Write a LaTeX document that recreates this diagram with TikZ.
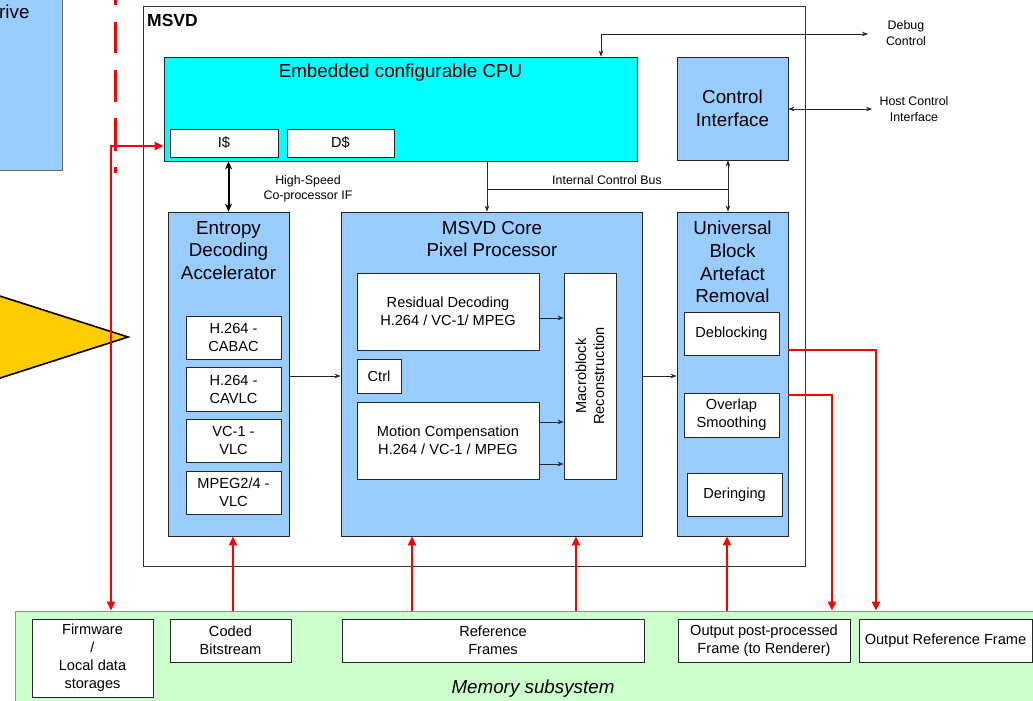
\documentclass[tikz,border=0pt]{standalone}
\usepackage{fontspec}
\setmainfont{Liberation Sans}
\usetikzlibrary{arrows.meta,calc}
\definecolor{lblue}{HTML}{99CCFF}
\definecolor{cpucyan}{HTML}{00FFFF}
\definecolor{memgreen}{HTML}{CCFFCC}
\definecolor{tri}{HTML}{FFCC00}
\definecolor{rline}{HTML}{FF0000}
\begin{document}
\begin{tikzpicture}[x=1pt,y=-1pt,
  bx/.style={draw=black!85, line width=0.8pt, inner sep=0pt, align=center},
  wbox/.style={bx, fill=white, font=\fontsize{14.6}{18}\selectfont},
  bbox/.style={bx, fill=lblue},
  ttl/.style={font=\fontsize{18.8}{22.7}\selectfont, align=center, inner sep=0pt},
  sml/.style={font=\fontsize{12.4}{15.5}\selectfont, align=center, inner sep=0pt},
  ar/.style={line width=0.7pt, draw=black!85, >={Stealth[length=6pt,width=4.5pt]}},
  rar/.style={draw=rline, line width=2.4pt, >={Triangle[length=9pt,width=8pt]}},
  thickar/.style={line width=2pt, >={Stealth[length=8pt,width=7pt]}},
  dashseg/.style={draw=rline, line width=2.8pt}
]
\useasboundingbox (0,0) rectangle (1033,701);
\clip (0,0) rectangle (1033,701);

% left partial box and triangle
\node[bbox, draw=black!60, minimum width=80, minimum height=190] (drivebox) at (22.5,75.5) {};
\node[ttl, anchor=west] (drivetxt) at (-1,12) {rive};
\fill[tri, draw=black, line width=1.6pt] (-20,289.7) -- (128,337) -- (-20,384.5) -- cycle;

% red dash-dot line
\foreach \a/\b in {-5/5, 22/53, 70/102, 118/151, 167/173}
  \draw[dashseg] (115.7,\a) -- (115.7,\b);

% MSVD outer
\node[bx, draw=black!80, minimum width=662, minimum height=560] (msvd) at (474,286) {};
\node[anchor=west, inner sep=0pt, font=\fontsize{17.5}{20}\selectfont\bfseries] (msvdl) at (147,20) {MSVD};

% CPU
\node[bx, fill=cpucyan, minimum width=473, minimum height=104] (cpu) at (400.5,109) {};
\node[ttl] (cput) at (400.5,73) {Embedded configurable CPU};
\node[wbox, minimum width=108, minimum height=28] (is) at (224,143) {I\$};
\node[wbox, minimum width=107, minimum height=28] (ds) at (340.5,143) {D\$};

% Control interface
\node[bbox, minimum width=111, minimum height=103] (ci) at (732.5,108.5) {};
\node[ttl] (cit) at (732.5,108.5) {Control\\Interface};

% Entropy
\node[bbox, minimum width=121, minimum height=324] (ent) at (228.5,374) {};
\node[ttl] (entt) at (228.5,250.5) {Entropy\\Decoding\\Accelerator};
\node[wbox, minimum width=95, minimum height=43] (cabac) at (233.5,337.5) {H.264 -\\CABAC};
\node[wbox, minimum width=95, minimum height=44] (cavlc) at (233.5,389) {H.264 -\\CAVLC};
\node[wbox, minimum width=95, minimum height=43] (vc1) at (233.5,440.5) {VC-1 -\\VLC};
\node[wbox, minimum width=95, minimum height=43] (mpeg) at (233.5,492.5) {MPEG2/4 -\\VLC};

% Core
\node[bbox, minimum width=301, minimum height=324] (core) at (491.5,374) {};
\node[ttl] (coret) at (492,239) {MSVD Core\\Pixel Processor};
\node[wbox, minimum width=182, minimum height=77] (res) at (448,311.5) {Residual Decoding\\H.264 / VC-1/ MPEG};
\node[wbox, minimum width=44, minimum height=34] (ctrl) at (379,376) {Ctrl};
\node[wbox, minimum width=182, minimum height=77] (mc) at (448,440.5) {Motion Compensation\\H.264 / VC-1 / MPEG};
\node[wbox, minimum width=52, minimum height=206] (mb) at (590,376) {};
\node[rotate=90, font=\fontsize{14.6}{18}\selectfont, align=center, inner sep=0pt] (mbt) at (590,376) {Macroblock\\Reconstruction};

% UBAR
\node[bbox, minimum width=111, minimum height=324] (ubar) at (732.5,374) {};
\node[ttl] (ubart) at (732.5,262) {Universal\\Block\\Artefact\\Removal};
\node[wbox, minimum width=95, minimum height=43] (deb) at (731.5,333.5) {Deblocking};
\node[wbox, minimum width=95, minimum height=44] (ovl) at (731.5,415) {Overlap\\Smoothing};
\node[wbox, minimum width=95, minimum height=43] (der) at (734.5,494.5) {Deringing};

% Memory
\node[bx, draw=black!45, fill=memgreen, minimum width=1030, minimum height=110] (mem) at (530,666) {};
\node[ttl, font=\fontsize{18.8}{22.7}\selectfont\itshape] (meml) at (533,689) {Memory subsystem};
\node[wbox, minimum width=121, minimum height=78] (fw) at (92.5,658) {Firmware\\/\\Local data\\storages};
\node[wbox, minimum width=121, minimum height=43] (cb) at (230.5,640.5) {Coded\\Bitstream};
\node[wbox, minimum width=302, minimum height=43] (rf) at (493,640.5) {Reference\\Frames};
\node[wbox, minimum width=172, minimum height=43] (opp) at (764,640.5) {Output post-processed\\Frame (to Renderer)};
\node[wbox, minimum width=173, minimum height=43] (orf) at (945.5,640.5) {Output Reference Frame};

% labels
\node[sml] (dbgl) at (906,33) {Debug\\Control};
\node[sml] (hostl) at (914,109) {Host Control\\Interface};
\node[sml] (hsl) at (308,189) {High-Speed\\Co-processor IF};
\node[sml] (icbl) at (607,180) {Internal Control Bus};

% black connectors
\coordinate (dbgc) at (601,34);
\coordinate (dbg) at (868,34);
\draw[ar,<->] (dbgc |- cpu.north) -- (dbgc) -- (dbg);
\coordinate (host) at (872,109);
\draw[ar,<->] (ci.east |- host) -- (host);
\draw[thickar,<->] (ent.north |- cpu.south) -- (ent.north);
\coordinate (busL) at (487,189);
\coordinate (busR) at (728,189);
\draw[ar,->] (cpu.south -| busL) -- (core.north -| busL);
\draw[ar] (busL) -- (busR);
\draw[ar,<->] (ci.south -| busR) -- (ubar.north -| busR);
\draw[ar,->] (ent.east |- ctrl) -- (core.west |- ctrl);
\draw[ar,->] (core.east |- ctrl) -- (ubar.west |- ctrl);
\draw[ar,->] ($(res.east)+(0,6.5)$) -- ($(mb.west |- res.east)+(0,6.5)$);
\draw[ar,->] ($(mc.east)+(0,-18.5)$) -- ($(mb.west |- mc.east)+(0,-18.5)$);
\draw[ar,->] ($(mc.east)+(0,23.5)$) -- ($(mb.west |- mc.east)+(0,23.5)$);

% red connectors
\coordinate (fwx) at (111,146);
\draw[rar,<->] (mem.north -| fwx) -- (fwx) -- (cpu.west |- fwx);
\coordinate (r1) at (233,600);
\coordinate (r2) at (412,600);
\coordinate (r3) at (576,600);
\coordinate (r4) at (727,600);
\draw[rar,->] (mem.north -| r1) -- (ent.south -| r1);
\draw[rar,->] (mem.north -| r2) -- (core.south -| r2);
\draw[rar,->] (mem.north -| r3) -- (core.south -| r3);
\draw[rar,->] (mem.north -| r4) -- (ubar.south -| r4);
\coordinate (dbk) at (876,350);
\coordinate (ovk) at (832,395);
\draw[rar,->] (ubar.east |- dbk) -- (dbk) -- (mem.north -| dbk);
\draw[rar,->] (ubar.east |- ovk) -- (ovk) -- (mem.north -| ovk);
\end{tikzpicture}
\end{document}
